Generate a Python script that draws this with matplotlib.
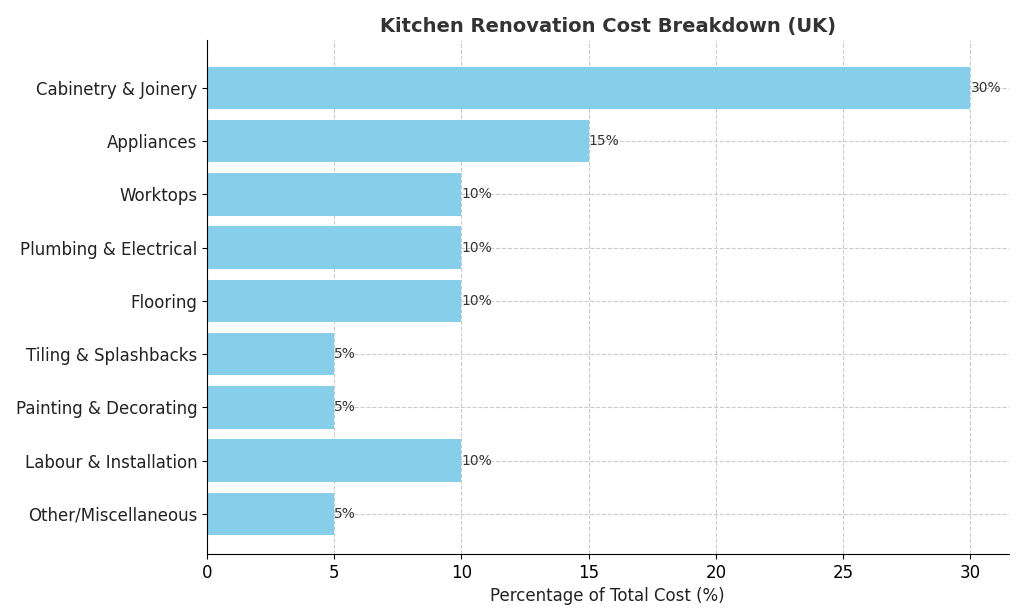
import matplotlib
matplotlib.use("Agg")
import matplotlib.pyplot as plt

categories = ["Cabinetry & Joinery", "Appliances", "Worktops", "Plumbing & Electrical",
              "Flooring", "Tiling & Splashbacks", "Painting & Decorating",
              "Labour & Installation", "Other/Miscellaneous"]
values = [30, 15, 10, 10, 10, 5, 5, 10, 5]

fig, ax = plt.subplots(figsize=(10.24, 6.14), dpi=100)
ys = list(range(len(categories)))[::-1]
ax.barh(ys, values, color="#87CEEB", height=0.8, zorder=2)
for y, v in zip(ys, values):
    ax.text(v, y, f"{v}%", va="center", ha="left", fontsize=10, color="#333333")
ax.set_yticks(ys)
ax.set_yticklabels(categories, fontsize=12, color="#222222")
ax.set_xlim(0, 31.5)
ax.set_ylim(-0.75, 8.9)
ax.tick_params(axis="x", labelsize=12)
ax.set_xlabel("Percentage of Total Cost (%)", fontsize=12, color="#222222")
ax.set_title("Kitchen Renovation Cost Breakdown (UK)", fontsize=14, fontweight="bold", color="#333333")
ax.grid(True, linestyle="--", color="#cccccc", linewidth=0.8, zorder=0)
ax.spines["top"].set_visible(False)
ax.spines["right"].set_visible(False)
plt.subplots_adjust(left=0.202, right=0.985, top=0.935, bottom=0.098)
fig.savefig("out.png")
